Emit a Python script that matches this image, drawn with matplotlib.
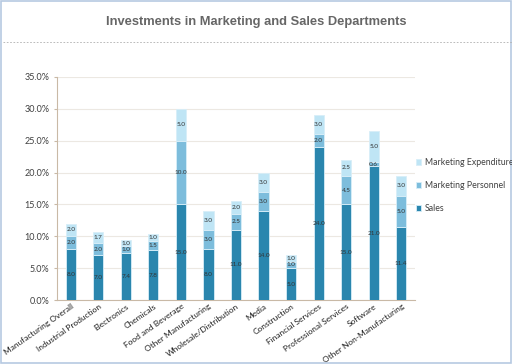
import numpy as np
import matplotlib
matplotlib.use("Agg")
import matplotlib.pyplot as plt
from matplotlib.patches import Rectangle
from matplotlib.lines import Line2D
from matplotlib.ticker import FuncFormatter, MultipleLocator

# ─────────────────────────────
# Data
# ─────────────────────────────
categories = [
    "Manufacturing Overall", "Industrial Production", "Electronics", "Chemicals",
    "Food and Beverage", "Other Manufacturing", "Wholesale/Distribution", "Media",
    "Construction", "Financial Services", "Professional Services", "Software",
    "Other Non-Manufacturing",
]
sales = [8.0, 7.0, 7.4, 7.8, 15.0, 8.0, 11.0, 14.0, 5.0, 24.0, 15.0, 21.0, 11.4]
personnel = [2.0, 2.0, 1.0, 1.5, 10.0, 3.0, 2.5, 3.0, 1.0, 2.0, 4.5, 0.6, 5.0]
expenditure = [2.0, 1.7, 1.0, 1.0, 5.0, 3.0, 2.0, 3.0, 1.0, 3.0, 2.5, 5.0, 3.0]

series = [
    ("Sales", sales, "#2a86ae"),
    ("Marketing Personnel", personnel, "#7dbddc"),
    ("Marketing Expenditure", expenditure, "#bfe5f5"),
]

plt.rcParams["font.family"] = ["Lato", "DejaVu Sans"]

fig = plt.figure(figsize=(5.12, 3.64), dpi=100)
ax = fig.add_axes([57 / 512, 1 - 300 / 364, 358 / 512, 223 / 364])

x = np.arange(len(categories))
bottom = np.zeros(len(categories))
for name, vals, color in series:
    vals = np.array(vals)
    ax.bar(x, vals, 0.37, bottom=bottom, color=color, edgecolor="#d8eef8",
           linewidth=0.6, label=name, zorder=3)
    for xi, b, v in zip(x, bottom, vals):
        ax.text(xi, b + v / 2, f"{v:.1f}", ha="center", va="center",
                fontsize=4.6, color="#333333", zorder=4)
    bottom += vals

ax.set_xlim(-0.5, len(categories) - 0.5)
ax.set_ylim(0, 35)
ax.yaxis.set_major_locator(MultipleLocator(5))
ax.yaxis.set_major_formatter(FuncFormatter(lambda v, p: f"{v:.1f}%"))
ax.grid(axis="y", color="#ece8e2", linewidth=0.8, zorder=0)
ax.set_axisbelow(True)
ax.tick_params(axis="y", length=2, labelsize=6.5, colors="#c9b9a6",
               labelcolor="#404040")
ax.tick_params(axis="x", length=0, labelsize=6, labelcolor="#202020", pad=2)
ax.set_xticks(x)
ax.set_xticklabels(categories, rotation=35, ha="right", rotation_mode="anchor")
for s in ["top", "right"]:
    ax.spines[s].set_visible(False)
ax.spines["left"].set_color("#c9b9a6")
ax.spines["bottom"].set_color("#c9b9a6")

# Legend (reverse order, like the reference)
handles, labels = ax.get_legend_handles_labels()
leg = fig.legend(handles[::-1], labels[::-1], loc="upper left",
                 bbox_to_anchor=(408 / 512, 1 - 150 / 364), frameon=False,
                 fontsize=6.3, handlelength=0.6, handleheight=0.6,
                 labelspacing=1.6, handletextpad=0.4)
for t in leg.get_texts():
    t.set_color("#404040")

# Title and decorations
fig.text(0.5, 1 - 22 / 364, "Investments in Marketing and Sales Departments",
         ha="center", va="center", fontsize=9.3, color="#666666",
         family=["Liberation Sans", "DejaVu Sans"], fontweight="bold")
fig.add_artist(Line2D([3 / 512, 1], [1 - 42 / 364] * 2, color="#b0b0b0",
                      linewidth=0.6, linestyle=(0, (2, 2))))
fig.add_artist(Rectangle((1 / 512, 1 / 364), 1 - 2 / 512, 1 - 2 / 364,
                         transform=fig.transFigure, fill=False,
                         edgecolor="#b6c9e2", linewidth=1.2))

plt.savefig("out.png", dpi=100)
plt.close()
